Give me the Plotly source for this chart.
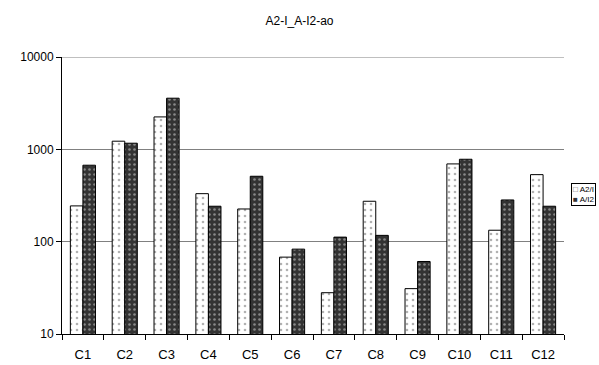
import plotly.graph_objects as go

categories = ["C1", "C2", "C3", "C4", "C5", "C6", "C7", "C8", "C9", "C10", "C11", "C12"]
a2_i = [244, 1225, 2244, 331, 226, 68, 28, 274, 31, 695, 133, 532]
a_i2 = [673, 1165, 3580, 242, 511, 83, 112, 117, 61, 781, 283, 242]
y_ticks = [10, 100, 1000, 10000]

fig = go.Figure()
fig.add_trace(go.Bar(
    x=categories, y=a2_i, name="A2/I",
    marker=dict(color="white", line=dict(color="black", width=1),
                pattern=dict(shape=".", fgcolor="#666666", bgcolor="white",
                             size=6, solidity=0.15)),
))
fig.add_trace(go.Bar(
    x=categories, y=a_i2, name="A/I2",
    marker=dict(color="#333333", line=dict(color="black", width=1),
                pattern=dict(shape=".", fgcolor="#dddddd", bgcolor="#333333",
                             size=5, solidity=0.2)),
))

# top border line of the value axis at 10000
fig.add_shape(type="line", xref="paper", x0=0, x1=1, yref="y", y0=10000, y1=10000,
              line=dict(color="#aaaaaa", width=1.5), layer="below")

# compact legend box
fig.add_annotation(
    xref="paper", yref="paper", x=1.014, y=0.505, xanchor="left", yanchor="middle",
    showarrow=False, align="left",
    text=("<span style='color:#555'>□</span> A2/I<br>"
          "<span style='color:#333'>■</span> A/I2"),
    font=dict(size=8, color="black"),
    bordercolor="black", borderwidth=1, borderpad=1, bgcolor="white",
)

fig.update_layout(
    width=599, height=365,
    margin=dict(l=62, r=35, t=57, b=31, autoexpand=False),
    paper_bgcolor="white", plot_bgcolor="white",
    barmode="group", bargap=0.4, bargroupgap=0,
    font=dict(family="Liberation Sans, Arial, sans-serif", color="black", size=12),
    title=dict(text="A2-I_A-I2-ao", x=0.5, xanchor="center", y=0.943, yanchor="middle",
               font=dict(size=12)),
    showlegend=False,
    xaxis=dict(type="category", showline=True, linecolor="black", linewidth=1,
               ticks="outside", tickson="boundaries", ticklen=5, tickcolor="black",
               showgrid=False, tickfont=dict(size=13), ticklabelstandoff=8),
    yaxis=dict(type="log", range=[1, 4], tickvals=y_ticks,
               ticktext=[str(v) for v in y_ticks],
               showline=True, linecolor="black", linewidth=1,
               ticks="outside", ticklen=5, tickcolor="black",
               showgrid=True, gridcolor="#808080", gridwidth=1,
               tickfont=dict(size=12), zeroline=False),
)

fig.write_html("out.html")
